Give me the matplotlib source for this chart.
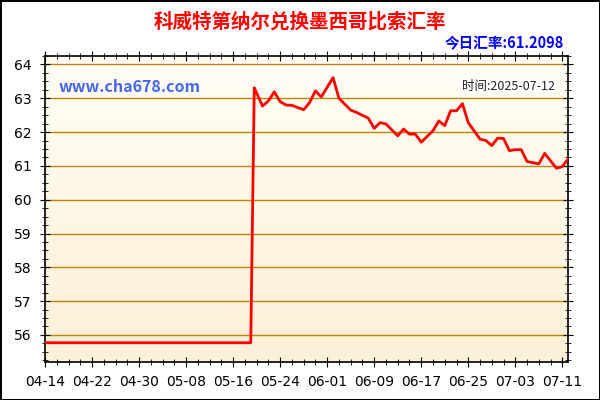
import numpy as np
import matplotlib
matplotlib.use('Agg')
import matplotlib.pyplot as plt
from matplotlib.ticker import MultipleLocator, FixedLocator

plt.rcParams['font.family'] = ['Noto Sans CJK SC', 'DejaVu Sans']

# days since 2025-04-14
dias = [0, 35] + [35.6, 37, 38, 39, 40, 41, 42, 44, 45, 46, 47, 49, 50, 52, 53, 55, 56, 57, 58,
                  60, 61, 62, 63, 64, 66, 67, 68, 69, 70, 71, 72, 74, 75, 76, 77, 78, 79, 80,
                  81, 82, 84, 85, 87, 88, 89]
taxas = [55.77, 55.77] + [63.31, 62.77, 62.92, 63.19, 62.90, 62.80, 62.79, 62.66, 62.87, 63.22,
                          63.04, 63.61, 63.00, 62.65, 62.58, 62.41, 62.11, 62.28, 62.24, 61.89,
                          62.09, 61.94, 61.94, 61.70, 62.04, 62.33, 62.19, 62.63, 62.63, 62.84,
                          62.28, 61.79, 61.75, 61.60, 61.82, 61.81, 61.45, 61.48, 61.48, 61.13,
                          61.06, 61.37, 60.93, 60.98, 61.2098]
rotulos_x = ['04-14', '04-22', '04-30', '05-08', '05-16', '05-24',
             '06-01', '06-09', '06-17', '06-25', '07-03', '07-11']
pos_x = [0, 8, 16, 24, 32, 40, 48, 56, 64, 72, 80, 88]

fig = plt.figure(figsize=(6, 4), dpi=100)
fig.patch.set_edgecolor('black')
fig.patch.set_linewidth(2)
ax = fig.add_axes([0.075, 0.095, 0.872, 0.765])

xmin, xmax, ymin, ymax = 0, 89, 55.2, 64.25
grad = np.linspace(0, 1, 256).reshape(-1, 1)
cmap = matplotlib.colors.LinearSegmentedColormap.from_list('bg', ['#FFFEF5', '#FCF0D6'])
ax.imshow(grad, aspect='auto', cmap=cmap, extent=[xmin, xmax, ymin, ymax],
          origin='upper', zorder=0)

for v in range(56, 65):
    ax.axhline(v, color='#B8860B', lw=1, zorder=1)

ax.plot(dias, taxas, color='#FF0000', lw=2, zorder=3)
ax.set_xlim(xmin, xmax)
ax.set_ylim(ymin, ymax)

ax.xaxis.set_major_locator(FixedLocator(pos_x))
ax.set_xticklabels(rotulos_x, family='DejaVu Sans')
ax.xaxis.set_minor_locator(MultipleLocator(2))
ax.yaxis.set_major_locator(MultipleLocator(1))
ax.yaxis.set_minor_locator(MultipleLocator(0.25))
for lab in ax.get_yticklabels():
    lab.set_family('DejaVu Sans')
ax.tick_params(which='both', direction='inout', top=True, right=True, labelsize=10, pad=6)
ax.tick_params(which='major', length=7)
ax.tick_params(which='minor', length=4)
for s in ax.spines.values():
    s.set_linewidth(1.2)

fig.text(0.5, 0.945, '科威特第纳尔兑换墨西哥比索汇率', color='red', fontsize=14,
         fontweight='bold', ha='center', va='center')
fig.text(0.94, 0.893, '今日汇率:61.2098', color='#0000FF', fontsize=10.5,
         fontweight='bold', ha='right', va='center')
ax.text(0.025, 0.9, 'www.cha678.com', color='#4466EE', fontsize=11.5, fontweight='bold',
        transform=ax.transAxes, va='center', zorder=4)
ax.text(0.975, 0.9, '时间:2025-07-12', color='#222222', fontsize=9, ha='right', va='center',
        transform=ax.transAxes, zorder=4,
        bbox=dict(facecolor='white', edgecolor='none', pad=1))

fig.savefig('out.png', dpi=100)
